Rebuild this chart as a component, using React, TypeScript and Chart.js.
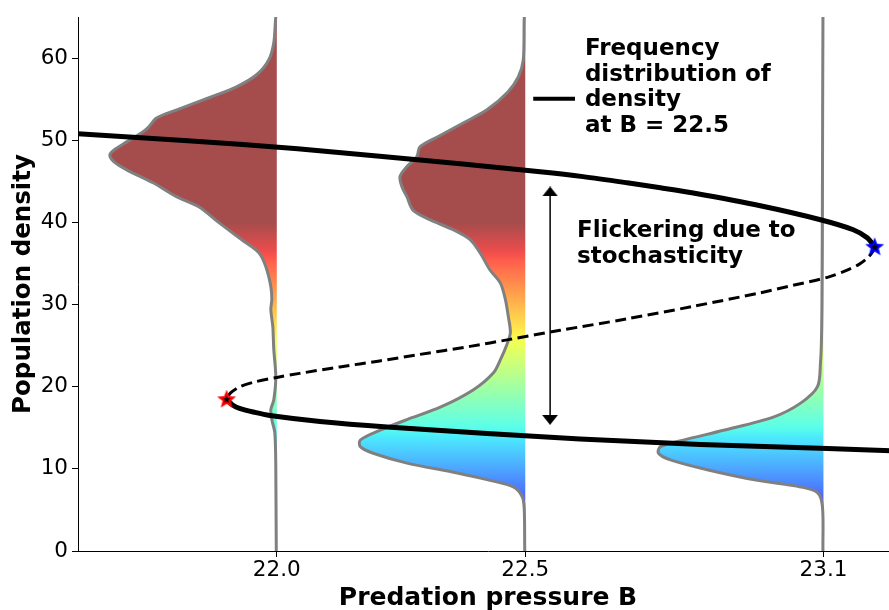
import React, { useEffect, useRef } from 'react';
import { Chart, registerables } from 'chart.js';

Chart.register(...registerables);

// ---------- axes ----------
const X_MIN = 21.6;
const X_MAX = 23.25;
const Y_MIN = 0;
const Y_MAX = 65;
const X_TICKS = [22.0, 22.5, 23.1];
const Y_TICKS = [0, 10, 20, 30, 40, 50, 60];
const X_TITLE = 'Predation pressure B';
const Y_TITLE = 'Population density';

// ---------- bifurcation curve (B, N) ----------
const UPPER_B = [21.6, 21.821, 22.042, 22.207, 22.369, 22.53, 22.616, 22.705, 22.772, 22.838, 22.973, 23.094, 23.16, 23.188, 23.203];
const UPPER_N = [50.79, 49.94, 48.96, 48.05, 47.14, 46.16, 45.57, 44.82, 44.21, 43.57, 42.02, 40.32, 39.1, 38.12, 37.03];
const MIDDLE_B = [23.203, 23.199, 23.189, 23.17, 23.144, 23.108, 23.039, 22.973, 22.838, 22.705, 22.57, 22.469, 22.389, 22.288, 22.207, 22.127, 22.046, 22.0, 21.956, 21.925, 21.907, 21.899];
const MIDDLE_N = [37.03, 36.42, 35.69, 34.83, 34.1, 33.31, 32.34, 31.43, 29.78, 28.26, 26.86, 25.76, 24.91, 23.93, 23.14, 22.41, 21.62, 21.13, 20.58, 19.98, 19.24, 18.48];
const LOWER_B = [21.899, 21.911, 21.925, 21.956, 21.986, 22.087, 22.222, 22.423, 22.61, 22.852, 23.108, 23.25];
const LOWER_N = [18.48, 17.78, 17.36, 16.87, 16.5, 15.77, 15.1, 14.31, 13.64, 12.97, 12.48, 12.18];

// fold points (saddle-node bifurcations)
const FOLD_LOW_B = [21.899];
const FOLD_LOW_N = [18.48];
const FOLD_HIGH_B = [23.203];
const FOLD_HIGH_N = [37.03];

// ---------- frequency distributions of density ----------
const DIST_BASES = [22.0, 22.5, 23.1];
const DIST_220_N = [0, 10.2, 14.4, 16.0, 17.2, 18.4, 21.2, 24.5, 27.3, 29.4, 30.6, 32.2, 34.6, 36.3, 37.9, 40.0, 41.9, 43.1, 44.8, 46.4, 47.4, 48.2, 48.8, 49.8, 50.9, 51.6, 52.7, 53.7, 55.2, 56.5, 58.0, 59.8, 61.9, 65.0];
const DIST_220_W = [0.001, 0.002, 0.004, 0.01, 0.012, 0.006, 0.002, 0.006, 0.008, 0.012, 0.01, 0.012, 0.022, 0.036, 0.071, 0.117, 0.157, 0.201, 0.248, 0.302, 0.328, 0.336, 0.328, 0.302, 0.272, 0.258, 0.242, 0.201, 0.135, 0.081, 0.04, 0.016, 0.006, 0.002];
const DIST_225_N = [0, 5.0, 6.6, 7.8, 8.6, 9.5, 10.7, 11.9, 12.7, 13.5, 14.7, 16.0, 17.5, 19.6, 21.7, 23.3, 25.3, 26.6, 28.5, 30.6, 32.6, 34.2, 36.3, 37.9, 39.1, 40.3, 41.5, 43.1, 44.3, 45.6, 46.8, 48.0, 49.2, 50.4, 52.1, 53.7, 55.8, 57.7, 59.8, 65.0];
const DIST_225_W = [0.001, 0.002, 0.006, 0.024, 0.071, 0.137, 0.238, 0.306, 0.332, 0.332, 0.292, 0.238, 0.171, 0.105, 0.064, 0.05, 0.036, 0.03, 0.034, 0.04, 0.05, 0.071, 0.091, 0.111, 0.145, 0.191, 0.226, 0.238, 0.248, 0.252, 0.238, 0.218, 0.212, 0.177, 0.125, 0.077, 0.036, 0.014, 0.004, 0.002];
const DIST_231_N = [0, 5.4, 7.1, 7.8, 8.6, 9.9, 11.1, 11.9, 12.7, 13.5, 14.7, 16.3, 18.0, 20.0, 22.9, 25.7, 30.6, 45.0, 65.0];
const DIST_231_W = [0.001, 0.002, 0.012, 0.046, 0.133, 0.234, 0.308, 0.332, 0.328, 0.282, 0.201, 0.101, 0.046, 0.012, 0.006, 0.004, 0.003, 0.002, 0.001];

// ---------- annotations ----------
const LEGEND_LINE_B = [22.516, 22.6];
const LEGEND_LINE_N = [55.05, 55.05];
const FREQ_TEXT_AT = [22.62, 60.35];
const FREQ_LINES = ['Frequency', 'distribution of', 'density', 'at B = 22.5'];
const FLICKER_TEXT_AT = [22.604, 38.18];
const FLICKER_LINES = ['Flickering due to', 'stochasticity'];
const ARROW_B = [22.55, 22.55];
const ARROW_N = [15.96, 43.76];

// ---------- styles ----------
const FONT = '"DejaVu Sans", "Liberation Sans", sans-serif';
const TICK_SIZE = 21.5;
const X_TITLE_SIZE = 25;
const Y_TITLE_SIZE = 24.5;
const ANNOT_SIZE = 23;
const ANNOT_LINE_H = 25.5;
const FILL_ALPHA = 0.7;
const JET_VMIN = 0;
const JET_VMAX = 40;
const JET_R: number[][] = [[0, 0], [0.35, 0], [0.66, 1], [0.89, 1], [1, 0.5]];
const JET_G: number[][] = [[0, 0], [0.125, 0], [0.375, 1], [0.64, 1], [0.91, 0], [1, 0]];
const JET_B: number[][] = [[0, 0.5], [0.11, 1], [0.34, 1], [0.65, 0], [1, 0]];

function interp(p: number[][], t: number) {
  for (let i = 1; i < p.length; i++) {
    if (t <= p[i][0]) {
      const [t0, v0] = p[i - 1];
      const [t1, v1] = p[i];
      return v0 + ((v1 - v0) * (t - t0)) / (t1 - t0);
    }
  }
  return p[p.length - 1][1];
}

function jetGradient(chart: any) {
  const y = chart.scales && chart.scales.y;
  if (!y || !chart.chartArea) return 'rgba(0,0,0,0)';
  const p0 = y.getPixelForValue(JET_VMIN);
  const p1 = y.getPixelForValue(JET_VMAX);
  const g = chart.ctx.createLinearGradient(0, p0, 0, p1);
  for (let i = 0; i <= 60; i++) {
    const t = i / 60;
    const r = Math.round(255 * interp(JET_R, t));
    const gg = Math.round(255 * interp(JET_G, t));
    const b = Math.round(255 * interp(JET_B, t));
    g.addColorStop(t, `rgba(${r},${gg},${b},${FILL_ALPHA})`);
  }
  return g;
}

function drawStar(c: CanvasRenderingContext2D, cx: number, cy: number, R: number, r: number, color: string) {
  c.beginPath();
  for (let i = 0; i < 10; i++) {
    const rad = i % 2 === 0 ? R : r;
    const a = -Math.PI / 2 + (i * Math.PI) / 5;
    const px = cx + rad * Math.cos(a);
    const py = cy + rad * Math.sin(a);
    if (i === 0) c.moveTo(px, py);
    else c.lineTo(px, py);
  }
  c.closePath();
  c.fillStyle = color;
  c.fill();
}

function starImage(color: string) {
  const s = 26;
  const cv = document.createElement('canvas');
  cv.width = s;
  cv.height = s;
  const c = cv.getContext('2d')!;
  drawStar(c, s / 2, s / 2 + 0.5, 10, 4.3, color);
  drawStar(c, s / 2, s / 2 + 0.5, 4.0, 1.7, '#000');
  return cv;
}

function arrowHeadImage() {
  const w = 16;
  const h = 10;
  const cv = document.createElement('canvas');
  cv.width = w;
  cv.height = h;
  const c = cv.getContext('2d')!;
  c.beginPath();
  c.moveTo(w / 2, 0);
  c.lineTo(w, h);
  c.lineTo(0, h);
  c.closePath();
  c.fillStyle = '#000';
  c.fill();
  return cv;
}

function pts(xs: number[], ys: number[]) {
  return xs.map((x, i) => ({ x, y: ys[i] }));
}

function distPoints(base: number, ns: number[], ws: number[]) {
  const out = [{ x: base, y: ns[0] }];
  ns.forEach((n, i) => out.push({ x: base - ws[i], y: n }));
  out.push({ x: base, y: ns[ns.length - 1] });
  return out;
}

const annotationPlugin = {
  id: 'textAnnotations',
  afterDatasetsDraw(chart: any) {
    const { ctx, scales } = chart;
    const xs = scales.x;
    const ys = scales.y;
    ctx.save();
    ctx.fillStyle = '#000';
    ctx.font = `bold ${ANNOT_SIZE}px ${FONT}`;
    ctx.textAlign = 'left';
    ctx.textBaseline = 'alphabetic';
    const fx = xs.getPixelForValue(FREQ_TEXT_AT[0]);
    const fy = ys.getPixelForValue(FREQ_TEXT_AT[1]);
    FREQ_LINES.forEach((t, i) => ctx.fillText(t, fx, fy + i * ANNOT_LINE_H));
    const kx = xs.getPixelForValue(FLICKER_TEXT_AT[0]);
    const ky = ys.getPixelForValue(FLICKER_TEXT_AT[1]);
    FLICKER_LINES.forEach((t, i) => ctx.fillText(t, kx, ky + i * ANNOT_LINE_H));
    ctx.restore();
  },
};

export default function App() {
  const ref = useRef<HTMLCanvasElement | null>(null);

  useEffect(() => {
    document.body.style.margin = '0';
    const canvas = ref.current;
    if (!canvas) return;
    const redStar = starImage('#ff0000');
    const blueStar = starImage('#0000ff');
    const head = arrowHeadImage();

    const curveBase = {
      type: 'line' as const,
      pointRadius: 0,
      borderColor: '#000',
      fill: false,
      tension: 0.3,
    };

    const distDataset = (base: number, ns: number[], ws: number[]) => ({
      type: 'line' as const,
      data: distPoints(base, ns, ws),
      borderColor: 'rgb(128,128,128)',
      borderWidth: 3,
      pointRadius: 0,
      tension: 0.3,
      fill: 'shape',
      backgroundColor: (c: any) => jetGradient(c.chart),
    });

    const chart = new Chart(canvas, {
      type: 'line',
      data: {
        datasets: [
          { data: pts(FOLD_LOW_B, FOLD_LOW_N), showLine: false, pointStyle: redStar, pointRadius: 6 },
          { data: pts(FOLD_HIGH_B, FOLD_HIGH_N), showLine: false, pointStyle: blueStar, pointRadius: 6 },
          { ...curveBase, data: pts(UPPER_B, UPPER_N), borderWidth: 5 },
          { ...curveBase, data: pts(LOWER_B, LOWER_N), borderWidth: 5 },
          { ...curveBase, data: pts(MIDDLE_B, MIDDLE_N), borderWidth: 3, borderDash: [11, 5.5] },
          { ...curveBase, tension: 0, data: pts(LEGEND_LINE_B, LEGEND_LINE_N), borderWidth: 4 },
          { ...curveBase, tension: 0, data: pts(ARROW_B, ARROW_N), borderWidth: 1.5 },
          {
            data: pts(ARROW_B, ARROW_N),
            showLine: false,
            pointStyle: head,
            pointRadius: 5,
            rotation: (c: any) => (c.dataIndex === 0 ? 180 : 0),
          },
          distDataset(DIST_BASES[0], DIST_220_N, DIST_220_W),
          distDataset(DIST_BASES[1], DIST_225_N, DIST_225_W),
          distDataset(DIST_BASES[2], DIST_231_N, DIST_231_W),
        ] as any,
      },
      options: {
        animation: false,
        responsive: false,
        devicePixelRatio: 1,
        events: [],
        layout: { autoPadding: false, padding: { top: 17, right: 0, left: 0, bottom: 0 } },
        plugins: {
          legend: { display: false },
          tooltip: { enabled: false },
        },
        scales: {
          x: {
            type: 'linear',
            min: X_MIN,
            max: X_MAX,
            afterBuildTicks: (s: any) => {
              s.ticks = X_TICKS.map((v) => ({ value: v }));
            },
            afterFit: (s: any) => {
              s.height = 59;
            },
            ticks: {
              callback: (v: any) => Number(v).toFixed(1),
              font: { family: FONT, size: TICK_SIZE },
              color: '#000',
              padding: 1,
              maxRotation: 0,
            },
            grid: { display: true, drawOnChartArea: false, drawTicks: true, tickLength: 6, color: '#000', lineWidth: 1 },
            border: { display: true, color: '#000', width: 1 },
            title: {
              display: true,
              text: X_TITLE,
              color: '#000',
              font: { family: FONT, size: X_TITLE_SIZE, weight: 'bold' },
              padding: { top: 0, bottom: -3 },
            },
          },
          y: {
            type: 'linear',
            min: Y_MIN,
            max: Y_MAX,
            afterBuildTicks: (s: any) => {
              s.ticks = Y_TICKS.map((v) => ({ value: v }));
            },
            afterFit: (s: any) => {
              s.width = 78;
            },
            ticks: {
              font: { family: FONT, size: TICK_SIZE },
              color: '#000',
              padding: 4,
            },
            grid: { display: true, drawOnChartArea: false, drawTicks: true, tickLength: 6, color: '#000', lineWidth: 1 },
            border: { display: true, color: '#000', width: 1 },
            title: {
              display: true,
              text: Y_TITLE,
              color: '#000',
              font: { family: FONT, size: Y_TITLE_SIZE, weight: 'bold' },
              padding: { top: 9, bottom: 0 },
            },
          },
        },
      } as any,
      plugins: [annotationPlugin],
    });

    return () => chart.destroy();
  }, []);

  return (
    <div
      style={{
        position: 'fixed',
        left: 0,
        top: 0,
        width: 889,
        height: 610,
        overflow: 'hidden',
        background: '#fff',
      }}
    >
      <canvas ref={ref} width={898} height={610} style={{ width: 898, height: 610, display: 'block' }} />
    </div>
  );
}
